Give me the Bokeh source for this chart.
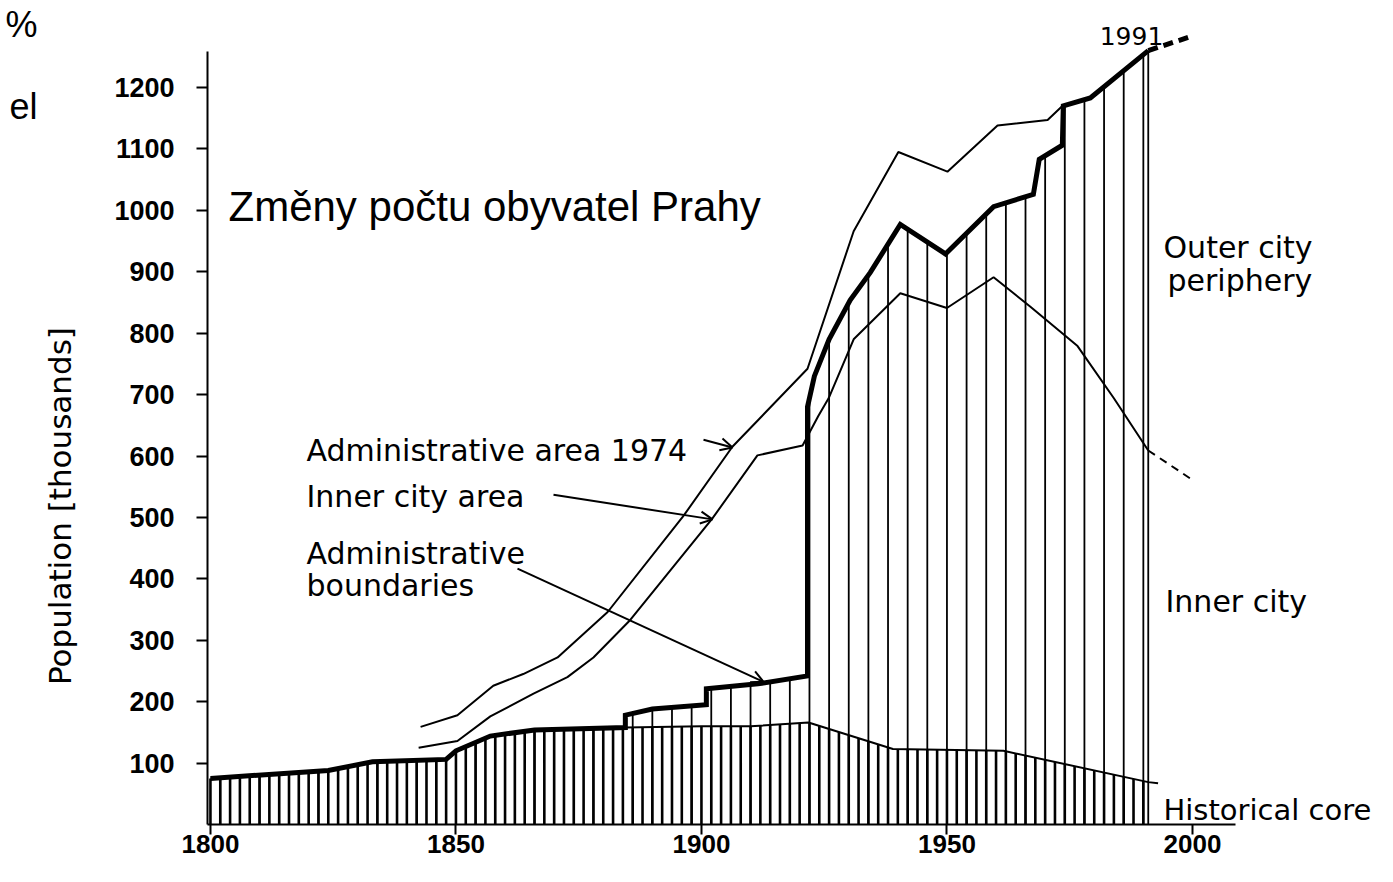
import numpy as np
from bokeh.plotting import figure
from bokeh.models import Range1d, FixedTicker, Label, Arrow, OpenHead, LinearAxis
from bokeh.embed import file_html
from bokeh.resources import INLINE

# ---------------- data (population in thousands) ----------------
# Administrative boundaries (thick line, city as administered at the time)
thick_years = [1800, 1824, 1833, 1848, 1850, 1857, 1866, 1884.5, 1884.5, 1890, 1901, 1901,
               1911.5, 1921.6, 1921.6, 1923, 1926, 1930.3, 1934.4, 1940.5, 1949.7, 1959.5,
               1967.6, 1968.8, 1973.5, 1973.7, 1979.2, 1991]
thick_vals = [75, 88, 102, 106, 120, 144, 154, 158, 178, 188, 195, 221,
              229, 242, 680, 730, 790, 854, 899, 977, 929, 1006,
              1026, 1083, 1106, 1170, 1183, 1260]
thick_ext_years = [1991, 2000]
thick_ext_vals = [1260, 1284]

# Administrative area 1974 (outer thin line)
outer_years = [1842.8, 1850.3, 1857.6, 1863.7, 1870.7, 1880.9, 1896.3, 1906.3, 1921.6,
               1931, 1940.1, 1950.1, 1960.3, 1970.5, 1973.5]
outer_vals = [159, 178, 226, 245, 272, 346, 502, 615, 742,
              966, 1095, 1063, 1138, 1147, 1170]

# Inner city area
inner_years = [1842.4, 1850.3, 1857, 1865.8, 1872.7, 1878, 1885.5, 1902.2, 1911.4, 1920.6,
               1923.8, 1925.9, 1931, 1940.5, 1950, 1959.5, 1967, 1976.6, 1984, 1991]
inner_vals = [125, 136, 176, 213, 240, 272, 333, 498, 601, 617,
              665, 694, 790, 865, 841, 891, 843, 779, 694, 609]
inner_ext_years = [1991, 2000]
inner_ext_vals = [609, 561]

# Historical core
core_years = [1800, 1824, 1833, 1848, 1850, 1857, 1866, 1884.5, 1900, 1910, 1921.8,
              1939, 1961.5, 1991, 1993]
core_vals = [75, 88, 102, 106, 120, 144, 154, 158, 160, 160, 166,
             123, 120, 69, 67]

y_ticks = [100, 200, 300, 400, 500, 600, 700, 800, 900, 1000, 1100, 1200]
x_ticks = [1800, 1850, 1900, 1950, 2000]

# cropped fragments of neighbouring slide text at the left edge
fragment_texts = ["%", "el"]

# ---------------- layout helpers ----------------
W, H = 1377, 866
LEFT = 207          # frame left (y axis line)
BOTTOM = 42         # bottom border
PX_PER_YEAR = 4.91
X0 = 1799.4
X_END = X0 + (W - LEFT) / PX_PER_YEAR
FRAME_H = H - BOTTOM
PX_PER_UNIT = (FRAME_H - 87) / 1200.0
Y_END = FRAME_H / PX_PER_UNIT


def X(px):
    return X0 + (px - LEFT) / PX_PER_YEAR


def Y(py):
    return (833 - py) / 0.624


def YF(py):
    # value at a given figure pixel row
    return int(round((FRAME_H - py) / PX_PER_UNIT))


p = figure(width=W, height=H, output_backend="svg", toolbar_location=None,
           x_range=Range1d(X0, X_END), y_range=Range1d(0, Y_END),
           min_border_left=LEFT, min_border_right=0, min_border_top=0,
           min_border_bottom=BOTTOM)
p.outline_line_color = None
p.grid.grid_line_color = None
p.background_fill_color = "white"
p.border_fill_color = "white"

# axes
p.xaxis.ticker = FixedTicker(ticks=x_ticks)
p.yaxis.ticker = FixedTicker(ticks=y_ticks)
p.xaxis.bounds = (X0, X(1235))
p.yaxis.bounds = (0, Y(48))
for ax in (p.xaxis, p.yaxis):
    ax.axis_line_width = 2
    ax.axis_line_color = "black"
    ax.major_tick_line_width = 2
    ax.major_tick_line_color = "black"
    ax.minor_tick_line_color = None
    ax.major_tick_in = 0
    ax.major_label_text_font = "Liberation Sans"
    ax.major_label_text_font_style = "bold"
    ax.major_label_text_color = "black"
p.xaxis.major_label_text_font_size = "26px"
p.yaxis.major_label_text_font_size = "27px"
p.xaxis.major_tick_out = 10
p.xaxis.major_label_standoff = 0
p.yaxis.major_tick_out = 11
p.yaxis.major_label_standoff = 22
p.yaxis.axis_label = "Population [thousands]" + "\u00a0" * 19
p.yaxis.axis_label_text_font = "DejaVu Sans"
p.yaxis.axis_label_text_font_size = "31px"
p.yaxis.axis_label_text_font_style = "normal"
p.yaxis.axis_label_text_color = "black"
p.yaxis.axis_label_standoff = 33

# fragments "%" / "el" at the far left, as an unlined outer axis
frag_vals = [YF(24), YF(106)]
frag_axis = LinearAxis(ticker=FixedTicker(ticks=frag_vals),
                       major_label_overrides={v: t for v, t in zip(frag_vals, fragment_texts)},
                       axis_line_color=None, major_tick_line_color=None,
                       minor_tick_line_color=None, major_tick_in=0, major_tick_out=0,
                       major_label_standoff=2, major_label_text_font="Liberation Sans",
                       major_label_text_font_size="36px", major_label_text_color="black")
p.add_layout(frag_axis, "left")

# hatching
dense_x = np.arange(1800, 1991, 2)
dense_top = np.interp(dense_x, core_years, core_vals)
tall_x = np.append(np.arange(1802, 1991, 4), 1991)
tall_top = np.interp(tall_x, thick_years, thick_vals)
p.segment(x0=dense_x, y0=np.zeros(len(dense_x)), x1=dense_x, y1=dense_top,
          line_color="black", line_width=2.6)
p.segment(x0=tall_x, y0=np.zeros(len(tall_x)), x1=tall_x, y1=tall_top,
          line_color="black", line_width=1.8)

# lines
p.line(core_years, core_vals, line_color="black", line_width=2)
p.line(outer_years, outer_vals, line_color="black", line_width=2)
p.line(inner_years, inner_vals, line_color="black", line_width=2)
p.line(inner_ext_years, inner_ext_vals, line_color="black", line_width=2, line_dash="8 6")
p.line(thick_years, thick_vals, line_color="black", line_width=5, line_join="miter")
p.line(thick_ext_years, thick_ext_vals, line_color="black", line_width=5, line_dash="10 6")

# annotation arrows
for (sx, sy, ex, ey) in [(703, 442, 732, 450), (553, 498, 712, 523), (517, 573, 763, 688)]:
    p.add_layout(Arrow(end=OpenHead(size=12, line_width=2, line_color="black"),
                       x_start=X(sx), y_start=Y(sy), x_end=X(ex), y_end=Y(ey),
                       line_width=2, line_color="black"))


def lab(text, px, py, font="DejaVu Sans", size="30px", align="left", style="normal"):
    p.add_layout(Label(x=X(px), y=Y(py), text=text, text_font=font, text_font_size=size,
                       text_align=align, text_baseline="alphabetic", text_color="black",
                       text_font_style=style))


lab("Administrative area 1974", 306, 453)
lab("Inner city area", 306, 500)
lab("Administrative", 306, 558)
lab("boundaries", 306, 590)
lab("1991", 1131, 32, size="25px", align="center")
lab("Outer city", 1163, 247)
lab("periphery", 1167, 280)
lab("Inner city", 1165, 606)
lab("Historical core", 1163, 818, size="29px")
lab("Změny počtu obyvatel Prahy", 228, 205, font="Liberation Sans", size="42px")

open("out.html", "w").write(file_html(p, INLINE))
